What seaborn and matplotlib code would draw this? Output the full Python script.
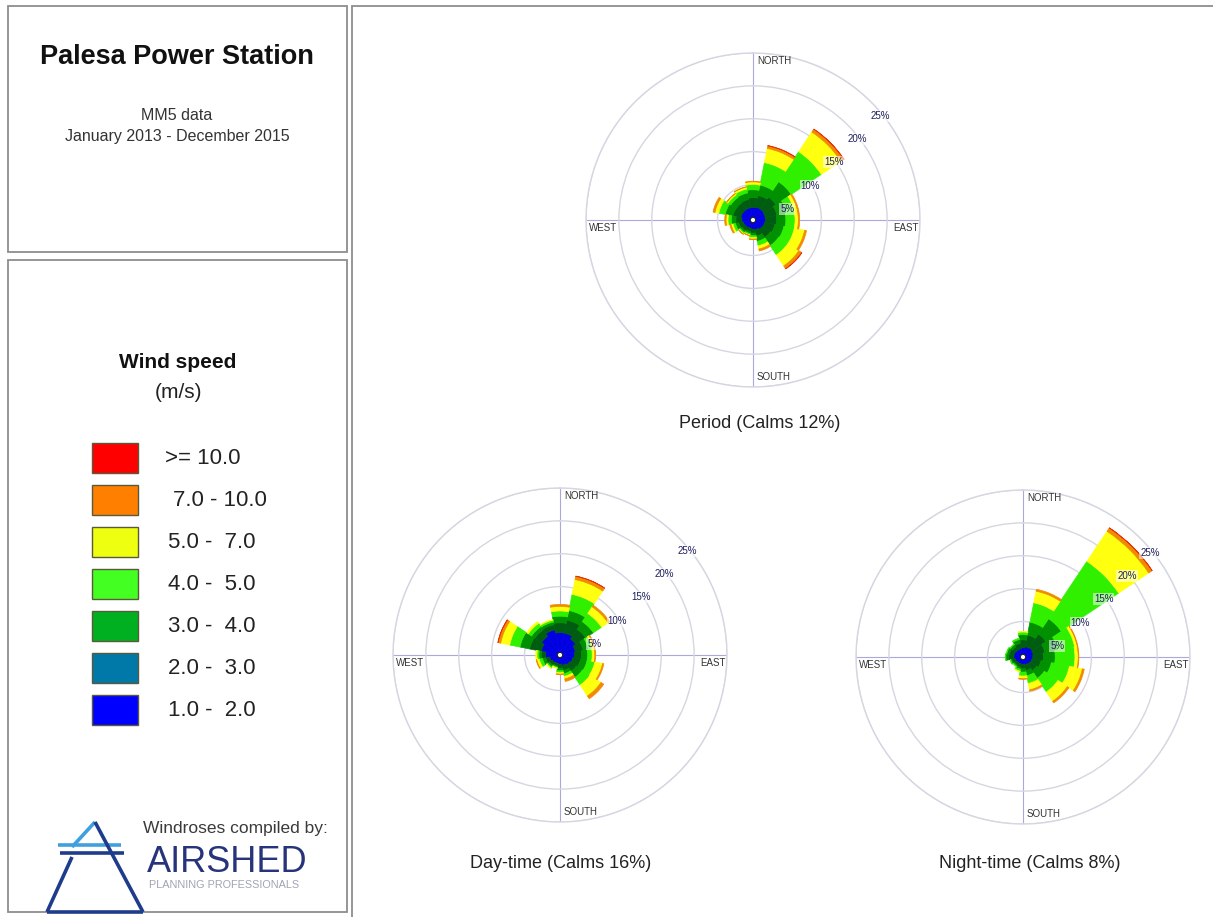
import numpy as np
import pandas as pd
import matplotlib
matplotlib.use("Agg")
import matplotlib.pyplot as plt
from matplotlib.patches import Rectangle
from matplotlib.lines import Line2D
import seaborn as sns

# ---------------- data ----------------
DIRECTIONS = ["N", "NNE", "NE", "ENE", "E", "ESE", "SE", "SSE",
              "S", "SSW", "SW", "WSW", "W", "WNW", "NW", "NNW"]
DIR_DEG = [0, 22.5, 45, 67.5, 90, 112.5, 135, 157.5,
           180, 202.5, 225, 247.5, 270, 292.5, 315, 337.5]

SPEED_CLASSES = [">= 10.0", "7.0 - 10.0", "5.0 -  7.0", "4.0 -  5.0",
                 "3.0 -  4.0", "2.0 -  3.0", "1.0 -  2.0"]
LEGEND_COLORS = ["#FF0000", "#FF8000", "#EEFF10", "#44FF22",
                 "#00B020", "#0078A8", "#0000FF"]
ROSE_COLORS = ["#E8300A", "#F08A00", "#FFFF10", "#30F000",
               "#009000", "#005C10", "#0000E0"]

RINGS = [5, 10, 15, 20, 25]

# Period (frequency %, per speed class, per direction N..NNW)
PERIOD_1_2 = [1.5, 1.6, 1.6, 1.5, 1.5, 1.4, 1.3, 1.1, 1.0, 0.9, 1.0, 1.1, 1.3, 1.5, 1.5, 1.5]
PERIOD_2_3 = [1.5, 1.8, 2.2, 1.8, 1.7, 1.6, 1.5, 1.0, 0.6, 0.5, 0.6, 0.7, 0.9, 1.2, 1.2, 1.3]
PERIOD_3_4 = [1.2, 1.6, 2.8, 1.5, 1.4, 1.4, 1.5, 0.8, 0.4, 0.3, 0.3, 0.5, 0.7, 1.2, 1.0, 1.0]
PERIOD_4_5 = [0.8, 3.5, 5.5, 1.2, 1.4, 1.6, 1.7, 0.7, 0.3, 0.2, 0.2, 0.4, 0.5, 1.0, 0.5, 0.6]
PERIOD_5_7 = [0.4, 2.2, 3.6, 0.5, 0.5, 1.6, 2.0, 0.5, 0.2, 0.1, 0.1, 0.3, 0.3, 0.6, 0.2, 0.3]
PERIOD_7_10 = [0.1, 0.4, 0.5, 0.2, 0.2, 0.3, 0.5, 0.3, 0.1, 0.05, 0.05, 0.2, 0.2, 0.3, 0.05, 0.05]
PERIOD_10 = [0.0, 0.05, 0.05, 0.0, 0.0, 0.0, 0.05, 0.0, 0.0, 0.0, 0.0, 0.0, 0.0, 0.0, 0.0, 0.0]

# Day-time
DAY_1_2 = [3.0, 3.0, 2.5, 2.0, 1.8, 1.6, 1.4, 1.2, 1.0, 0.9, 1.0, 1.2, 1.8, 2.5, 3.0, 3.5]
DAY_2_3 = [1.5, 2.0, 1.8, 1.2, 1.1, 1.2, 1.2, 0.8, 0.6, 0.4, 0.5, 0.6, 0.6, 1.8, 1.2, 0.8]
DAY_3_4 = [1.0, 1.5, 1.4, 0.8, 0.9, 1.0, 1.1, 0.5, 0.4, 0.2, 0.3, 0.5, 0.4, 1.5, 0.6, 0.4]
DAY_4_5 = [0.8, 2.5, 1.5, 0.6, 0.7, 1.2, 1.4, 0.4, 0.3, 0.1, 0.2, 0.5, 0.3, 1.6, 0.6, 0.3]
DAY_5_7 = [0.7, 2.3, 1.2, 0.3, 0.4, 1.2, 2.0, 0.4, 0.2, 0.1, 0.1, 0.4, 0.2, 1.4, 0.3, 0.1]
DAY_7_10 = [0.3, 0.5, 0.3, 0.1, 0.1, 0.2, 0.5, 0.4, 0.1, 0.0, 0.0, 0.1, 0.0, 0.4, 0.0, 0.0]
DAY_10 = [0.0, 0.05, 0.0, 0.0, 0.0, 0.0, 0.0, 0.0, 0.0, 0.0, 0.0, 0.0, 0.0, 0.05, 0.0, 0.0]

# Night-time
NIGHT_1_2 = [1.0, 1.2, 1.3, 1.2, 1.1, 1.0, 0.9, 0.8, 0.7, 0.7, 0.7, 0.8, 1.0, 1.0, 0.9, 0.9]
NIGHT_2_3 = [1.2, 1.8, 2.5, 1.8, 1.6, 1.4, 1.2, 0.9, 0.7, 0.5, 0.4, 0.5, 0.8, 0.7, 0.6, 0.8]
NIGHT_3_4 = [0.8, 2.0, 2.8, 2.0, 1.8, 1.6, 1.4, 0.8, 0.5, 0.3, 0.2, 0.2, 0.4, 0.4, 0.4, 0.6]
NIGHT_4_5 = [0.4, 3.0, 10.5, 2.6, 3.0, 2.8, 2.5, 1.2, 0.6, 0.3, 0.1, 0.1, 0.1, 0.1, 0.1, 0.2]
NIGHT_5_7 = [0.1, 1.8, 5.5, 0.4, 0.5, 2.0, 1.7, 1.0, 0.4, 0.1, 0.0, 0.0, 0.0, 0.0, 0.0, 0.0]
NIGHT_7_10 = [0.0, 0.3, 0.6, 0.1, 0.1, 0.3, 0.3, 0.2, 0.1, 0.0, 0.0, 0.0, 0.0, 0.0, 0.0, 0.0]
NIGHT_10 = [0.0, 0.0, 0.05, 0.0, 0.0, 0.0, 0.0, 0.0, 0.0, 0.0, 0.0, 0.0, 0.0, 0.0, 0.0, 0.0]


def rose_frame(series):
    rows = []
    for cls, vals in zip(SPEED_CLASSES, series):
        for d, deg, v in zip(DIRECTIONS, DIR_DEG, vals):
            rows.append({"dir": d, "theta": np.deg2rad(deg), "speed": cls, "freq": v})
    return pd.DataFrame(rows)


ROSES = [
    ("Period (Calms 12%)", (753, 220),
     [PERIOD_10, PERIOD_7_10, PERIOD_5_7, PERIOD_4_5, PERIOD_3_4, PERIOD_2_3, PERIOD_1_2]),
    ("Day-time (Calms 16%)", (560, 655),
     [DAY_10, DAY_7_10, DAY_5_7, DAY_4_5, DAY_3_4, DAY_2_3, DAY_1_2]),
    ("Night-time (Calms 8%)", (1023, 657),
     [NIGHT_10, NIGHT_7_10, NIGHT_5_7, NIGHT_4_5, NIGHT_3_4, NIGHT_2_3, NIGHT_1_2]),
]
CAPTION_POS = [(760, 423), (561, 864), (1030, 864)]

# ---------------- figure ----------------
sns.set_style("white")
plt.rcParams["font.family"] = ["Liberation Sans", "DejaVu Sans"]

W, H = 1213, 917
fig = plt.figure(figsize=(W / 100, H / 100), dpi=100)
fig.patch.set_facecolor("white")

bg = fig.add_axes([0, 0, 1, 1], zorder=0)
bg.set_xlim(0, W)
bg.set_ylim(H, 0)
bg.axis("off")

# panel frames
frame_c = "#8E8E8E"
bg.add_patch(Rectangle((8, 6), 339, 246, fill=False, ec=frame_c, lw=1.3))
bg.add_patch(Rectangle((8, 260), 339, 652, fill=False, ec=frame_c, lw=1.3))
bg.add_line(Line2D([352, 352], [6, 917], color=frame_c, lw=1.3))
bg.add_line(Line2D([352, 1213], [6, 6], color=frame_c, lw=1.3))

# header texts
bg.text(177, 57, "Palesa Power Station", ha="center", va="center",
        fontsize=19.5, fontweight="bold", color="#111111")
bg.text(177, 115, "MM5 data", ha="center", va="center", fontsize=11.5, color="#333333")
bg.text(177, 136, "January 2013 - December 2015", ha="center", va="center",
        fontsize=11.5, color="#333333")

# legend
bg.text(178, 362, "Wind speed", ha="center", va="center", fontsize=15,
        fontweight="bold", color="#111111")
bg.text(178, 393, "(m/s)", ha="center", va="center", fontsize=15, color="#222222")
label_x = [165, 173, 168, 168, 168, 168, 168]
for i, (lab, col) in enumerate(zip(SPEED_CLASSES, LEGEND_COLORS)):
    top = 443 + i * 42
    bg.add_patch(Rectangle((92, top), 46, 30, fc=col, ec="#5A5A3A", lw=1.0))
    bg.text(label_x[i], top + 15, lab, ha="left", va="center", fontsize=16, color="#222222")

# logo
light = "#3FA0E0"
dark = "#1F3C8C"
for xs, ys, c in [
    ([95, 72], [822, 847], light),
    ([58, 121], [845, 845], light),
    ([60, 124], [853, 853], dark),
    ([72, 47], [857, 912], dark),
    ([47, 143], [912, 912], dark),
    ([95, 143], [822, 912], dark),
]:
    bg.add_line(Line2D(xs, ys, color=c, lw=2.6, solid_capstyle="butt"))
bg.text(328, 829, "Windroses compiled by:", ha="right", va="center",
        fontsize=12.5, color="#3A3A3A")
bg.text(147, 863, "AIRSHED", ha="left", va="center", fontsize=26, color="#27337A")
bg.text(149, 885, "PLANNING PROFESSIONALS", ha="left", va="center",
        fontsize=7.8, color="#A0A4B4")

# ---------------- wind roses ----------------
R = 167
edges = list(np.deg2rad(np.arange(-11.25, 360.0, 22.5)))
ring_c = "#D6D6E2"
cross_c = "#A9A9DE"
txt_c = "#1E1E5C"

for (caption, (cx, cy), series), (tx, ty) in zip(ROSES, CAPTION_POS):
    rect = [(cx - R) / W, 1 - (cy + R) / H, 2 * R / W, 2 * R / H]
    ax = fig.add_axes(rect, projection="polar", zorder=2)
    ax.set_theta_zero_location("N")
    ax.set_theta_direction(-1)
    df = rose_frame(series)
    sns.histplot(data=df, x="theta", weights="freq", hue="speed",
                 hue_order=SPEED_CLASSES, palette=ROSE_COLORS, multiple="stack",
                 bins=edges, ax=ax, alpha=1, edgecolor="none", linewidth=0,
                 legend=False)
    # close antialiasing seams between adjacent sectors
    for p in ax.patches:
        if p.get_height() > 0:
            p.set_edgecolor(p.get_facecolor())
            p.set_linewidth(0.5)
    ax.set_ylim(0, 25)
    ax.set_rorigin(-0.4)
    ax.set_yticks(RINGS)
    ax.set_xticks(np.deg2rad([0, 90, 180, 270]))
    ax.set_xticklabels([])
    ax.set_yticklabels([])
    ax.set_xlabel("")
    ax.set_ylabel("")
    ax.tick_params(length=0)
    ax.xaxis.grid(True, color=cross_c, lw=0.8)
    ax.yaxis.grid(True, color=ring_c, lw=1.0)
    ax.spines["polar"].set_edgecolor(ring_c)
    ax.spines["polar"].set_linewidth(1.0)
    ax.set_axisbelow(True)

    for v in RINGS:
        ax.annotate(f"{v}%", xy=(np.deg2rad(45), v), xytext=(6.5, -10),
                    textcoords="offset points", ha="center", va="center",
                    fontsize=7, color=txt_c, zorder=10,
                    bbox=dict(boxstyle="square,pad=0.1", fc="white", ec="none", alpha=0.55))
    lab_kw = dict(fontsize=7, color="#333333", transform=ax.transAxes, clip_on=False)
    ax.text(0.512, 0.976, "NORTH", ha="left", va="center", **lab_kw)
    ax.text(0.008, 0.476, "WEST", ha="left", va="center", **lab_kw)
    ax.text(0.995, 0.476, "EAST", ha="right", va="center", **lab_kw)
    ax.text(0.512, 0.03, "SOUTH", ha="left", va="center", **lab_kw)

    bg.text(tx, ty, caption, ha="center", va="center", fontsize=13, color="#222222")

fig.savefig("out.png", dpi=100, facecolor="white")
